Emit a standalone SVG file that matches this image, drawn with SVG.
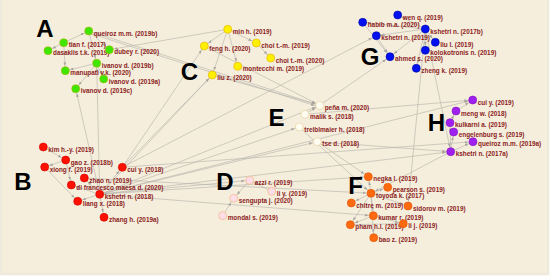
<svg xmlns="http://www.w3.org/2000/svg" width="550" height="276" viewBox="0 0 550 276">
<defs>
<style>
.lb{font-family:"Liberation Sans",Arial,sans-serif;font-weight:bold;font-size:6.4px;fill:#8c1c1c}
.big{font-family:"Liberation Sans",Arial,sans-serif;font-weight:bold;font-size:24px;fill:#000;text-anchor:middle}
.e line{stroke:#b8b5ad;stroke-width:0.65;fill:none;marker-end:url(#arr)}
circle{stroke-width:0.6}
.gr{fill:#3ee600;stroke:#a8b400}
.ye{fill:#fff000;stroke:#e0b000}
.bl{fill:#0010f0;stroke:#0008a0}
.pu{fill:#a020f0;stroke:#8010c0}
.rd{fill:#ff1000;stroke:#d00000}
.or{fill:#ff6a10;stroke:#e05000}
.pk{fill:#fcdde8;stroke:#f0b070}
.wh{fill:#fffdf2;stroke:#e6c890}
</style>
<marker id="arr" markerUnits="userSpaceOnUse" markerWidth="4" markerHeight="4" viewBox="0 -2 4 4" refX="8.4" refY="0" orient="auto">
<path d="M0,-1.4 L3.5,0 L0,1.4z" fill="#a8a59e"/>
</marker>
</defs>
<rect x="0" y="0" width="550" height="276" fill="#faf7f0"/>
<rect x="1" y="-1" width="547" height="275" fill="#f5eedc" stroke="#e2ddd0" stroke-width="0.8"/>

<g id="connectors" class="e">
<line x1="63.7" y1="42.7" x2="88.7" y2="31"/>
<line x1="63.7" y1="42.7" x2="48" y2="50.7"/>
<line x1="88.7" y1="31" x2="109.3" y2="49.7"/>
<line x1="63.7" y1="42.7" x2="65.3" y2="70.7"/>
<line x1="96.7" y1="63.3" x2="65.3" y2="70.7"/>
<line x1="88.7" y1="31" x2="96.7" y2="63.3"/>
<line x1="96.7" y1="63.3" x2="103.7" y2="79"/>
<line x1="96.7" y1="63.3" x2="75.7" y2="88.7"/>
<line x1="99.7" y1="194.3" x2="75.7" y2="88.7"/>
<line x1="99.7" y1="194.3" x2="96.7" y2="63.3"/>
<line x1="88.7" y1="31" x2="319.7" y2="105.3"/>
<line x1="89.5" y1="33.2" x2="319.2" y2="107"/>
<line x1="227.7" y1="29.3" x2="109.3" y2="49.7"/>
<line x1="227.7" y1="29.3" x2="204.3" y2="46"/>
<line x1="227.7" y1="29.3" x2="212.3" y2="75"/>
<line x1="227.7" y1="29.3" x2="237.7" y2="66.3"/>
<line x1="227.7" y1="29.3" x2="256.3" y2="43"/>
<line x1="256.3" y1="43" x2="270.7" y2="58"/>
<line x1="122.3" y1="167.3" x2="204.3" y2="46"/>
<line x1="122.3" y1="167.3" x2="212.3" y2="75"/>
<line x1="99.7" y1="194.3" x2="212.3" y2="75"/>
<line x1="204.3" y1="46" x2="319.7" y2="105.3"/>
<line x1="212.3" y1="75" x2="319.7" y2="105.3"/>
<line x1="425.3" y1="29" x2="362.7" y2="22.3"/>
<line x1="425.3" y1="29" x2="376.3" y2="35.7"/>
<line x1="425.3" y1="29" x2="397.7" y2="15"/>
<line x1="425.3" y1="29" x2="435.3" y2="42.3"/>
<line x1="425.3" y1="29" x2="425.3" y2="50.3"/>
<line x1="425.3" y1="29" x2="416.3" y2="68.3"/>
<line x1="425.3" y1="29" x2="390" y2="56.7"/>
<line x1="362.7" y1="22.3" x2="390" y2="56.7"/>
<line x1="376.3" y1="35.7" x2="390" y2="56.7"/>
<line x1="122.3" y1="167.3" x2="376.3" y2="35.7"/>
<line x1="319.7" y1="105.3" x2="390" y2="56.7"/>
<line x1="425.3" y1="29" x2="408" y2="206"/>
<line x1="425.3" y1="29" x2="450.7" y2="151.7"/>
<line x1="450.7" y1="151.7" x2="473" y2="141.7"/>
<line x1="450.7" y1="151.7" x2="453.7" y2="132"/>
<line x1="450.7" y1="151.7" x2="450" y2="122.7"/>
<line x1="450" y1="122.7" x2="456" y2="111"/>
<line x1="456" y1="111" x2="472.7" y2="100"/>
<line x1="305" y1="114.3" x2="472.7" y2="100"/>
<line x1="99.7" y1="194.3" x2="472.7" y2="100"/>
<line x1="99.7" y1="194.3" x2="450.7" y2="151.7"/>
<line x1="122.3" y1="167.3" x2="473" y2="141.7"/>
<line x1="317.3" y1="141.7" x2="450.7" y2="151.7"/>
<line x1="450.7" y1="151.7" x2="371" y2="193.3"/>
<line x1="305" y1="114.3" x2="319.7" y2="105.3"/>
<line x1="99.7" y1="194.3" x2="299.3" y2="127"/>
<line x1="99.7" y1="194.3" x2="317.3" y2="141.7"/>
<line x1="99.7" y1="194.3" x2="319.7" y2="105.3"/>
<line x1="317.3" y1="141.7" x2="368.3" y2="176.7"/>
<line x1="299.3" y1="127" x2="371" y2="193.3"/>
<line x1="43.3" y1="147" x2="65.7" y2="160"/>
<line x1="65.7" y1="160" x2="44.7" y2="167"/>
<line x1="65.7" y1="160" x2="71.3" y2="185"/>
<line x1="44.7" y1="167" x2="77.7" y2="201.3"/>
<line x1="99.7" y1="194.3" x2="71.3" y2="185"/>
<line x1="99.7" y1="194.3" x2="77.7" y2="201.3"/>
<line x1="99.7" y1="194.3" x2="84.3" y2="178"/>
<line x1="99.7" y1="194.3" x2="104" y2="217.3"/>
<line x1="99.7" y1="194.3" x2="122.3" y2="167.3"/>
<line x1="84.3" y1="178" x2="371" y2="193.3"/>
<line x1="99.7" y1="194.3" x2="368.3" y2="176.7"/>
<line x1="99.7" y1="194.3" x2="373.3" y2="215.7"/>
<line x1="99.7" y1="194.3" x2="249.7" y2="180.3"/>
<line x1="271.7" y1="191.3" x2="249.7" y2="180.3"/>
<line x1="249.7" y1="180.3" x2="233.7" y2="198.3"/>
<line x1="222.7" y1="215.7" x2="233.7" y2="198.3"/>
<line x1="371" y1="193.3" x2="368.3" y2="176.7"/>
<line x1="371" y1="193.3" x2="387.7" y2="187.3"/>
<line x1="371" y1="193.3" x2="351.3" y2="203"/>
<line x1="371" y1="193.3" x2="408" y2="206"/>
<line x1="371" y1="193.3" x2="373.3" y2="215.7"/>
<line x1="371" y1="193.3" x2="350.3" y2="224.7"/>
<line x1="371" y1="193.3" x2="373.7" y2="237.7"/>
<line x1="373.3" y1="215.7" x2="403.3" y2="223.7"/>
<line x1="350.3" y1="224.7" x2="403.3" y2="223.7"/>
<line x1="373.3" y1="215.7" x2="350.3" y2="224.7"/>
</g>

<g id="cluster-labels">
<text class="big" x="45" y="36.5">A</text>
<text class="big" x="23" y="189.5">B</text>
<text class="big" x="189.5" y="79.5">C</text>
<text class="big" x="225" y="189.5">D</text>
<text class="big" x="276.5" y="125.5">E</text>
<text class="big" x="355.5" y="193.5">F</text>
<text class="big" x="370" y="65">G</text>
<text class="big" x="436.5" y="130.5">H</text>
</g>

<g id="n-queiroz-2019b"><circle class="gr" cx="88.7" cy="31" r="4"/><text class="lb" x="93.7" y="35.7">queiroz m.m. (2019b)</text></g>
<g id="n-tian-2017"><circle class="gr" cx="63.7" cy="42.7" r="4"/><text class="lb" x="68.7" y="47.4">tian f. (2017)</text></g>
<g id="n-dasaklis-2019"><circle class="gr" cx="48" cy="50.7" r="4"/><text class="lb" x="53" y="55.4">dasaklis t.k. (2019)</text></g>
<g id="n-dubey-2020"><circle class="gr" cx="109.3" cy="49.7" r="4"/><text class="lb" x="114.3" y="54.4">dubey r. (2020)</text></g>
<g id="n-ivanov-2019b"><circle class="gr" cx="96.7" cy="63.3" r="4"/><text class="lb" x="101.7" y="68">ivanov d. (2019b)</text></g>
<g id="n-manupati-2020"><circle class="gr" cx="65.3" cy="70.7" r="4"/><text class="lb" x="70.3" y="75.4">manupati v.k. (2020)</text></g>
<g id="n-ivanov-2019a"><circle class="gr" cx="103.7" cy="79" r="4"/><text class="lb" x="108.7" y="83.7">ivanov d. (2019a)</text></g>
<g id="n-ivanov-2019c"><circle class="gr" cx="75.7" cy="88.7" r="4"/><text class="lb" x="80.7" y="93.4">ivanov d. (2019c)</text></g>

<g id="n-min-2019"><circle class="ye" cx="227.7" cy="29.3" r="4"/><text class="lb" x="232.7" y="34">min h. (2019)</text></g>
<g id="n-feng-2020"><circle class="ye" cx="204.3" cy="46" r="4"/><text class="lb" x="209.3" y="50.7">feng h. (2020)</text></g>
<g id="n-choi-2019"><circle class="ye" cx="256.3" cy="43" r="4"/><text class="lb" x="261.3" y="47.7">choi t.-m. (2019)</text></g>
<g id="n-choi-2020"><circle class="ye" cx="270.7" cy="58" r="4"/><text class="lb" x="275.7" y="62.7">choi t.-m. (2020)</text></g>
<g id="n-montecchi-2019"><circle class="ye" cx="237.7" cy="66.3" r="4"/><text class="lb" x="242.7" y="71">montecchi m. (2019)</text></g>
<g id="n-liu-z-2020"><circle class="ye" cx="212.3" cy="75" r="4"/><text class="lb" x="217.3" y="79.7">liu z. (2020)</text></g>

<g id="n-wen-2019"><circle class="bl" cx="397.7" cy="15" r="4"/><text class="lb" x="402.7" y="19.7">wen q. (2019)</text></g>
<g id="n-habib-2020"><circle class="bl" cx="362.7" cy="22.3" r="4"/><text class="lb" x="367.7" y="27">habib m.a. (2020)</text></g>
<g id="n-kshetri-2017b"><circle class="bl" cx="425.3" cy="29" r="4"/><text class="lb" x="430.3" y="33.7">kshetri n. (2017b)</text></g>
<g id="n-kshetri-2019"><circle class="bl" cx="376.3" cy="35.7" r="4"/><text class="lb" x="381.3" y="40.4">kshetri n. (2019)</text></g>
<g id="n-liu-l-2019"><circle class="bl" cx="435.3" cy="42.3" r="4"/><text class="lb" x="440.3" y="47">liu l. (2019)</text></g>
<g id="n-kolokotronis-2019"><circle class="bl" cx="425.3" cy="50.3" r="4"/><text class="lb" x="430.3" y="55">kolokotronis n. (2019)</text></g>
<g id="n-ahmed-2020"><circle class="bl" cx="390" cy="56.7" r="4"/><text class="lb" x="395" y="61.4">ahmed s. (2020)</text></g>
<g id="n-zheng-2019"><circle class="bl" cx="416.3" cy="68.3" r="4"/><text class="lb" x="421.3" y="73">zheng k. (2019)</text></g>

<g id="n-pena-2020"><circle class="wh" cx="319.7" cy="105.3" r="4"/><text class="lb" x="324.7" y="110">peña m. (2020)</text></g>
<g id="n-malik-2018"><circle class="wh" cx="305" cy="114.3" r="4"/><text class="lb" x="310" y="119">malik s. (2018)</text></g>
<g id="n-treiblmaier-2018"><circle class="wh" cx="299.3" cy="127" r="4"/><text class="lb" x="304.3" y="131.7">treiblmaier h. (2018)</text></g>
<g id="n-tse-2018"><circle class="wh" cx="317.3" cy="141.7" r="4"/><text class="lb" x="322.3" y="146.4">tse d. (2018)</text></g>

<g id="n-cui-y-2019"><circle class="pu" cx="472.7" cy="100" r="4"/><text class="lb" x="477.7" y="104.7">cui y. (2019)</text></g>
<g id="n-meng-2018"><circle class="pu" cx="456" cy="111" r="4"/><text class="lb" x="461" y="115.7">meng w. (2018)</text></g>
<g id="n-kulkarni-2019"><circle class="pu" cx="450" cy="122.7" r="4"/><text class="lb" x="455" y="127.4">kulkarni a. (2019)</text></g>
<g id="n-engelenburg-2019"><circle class="pu" cx="453.7" cy="132" r="4"/><text class="lb" x="458.7" y="136.7">engelenburg s. (2019)</text></g>
<g id="n-queiroz-2019a"><circle class="pu" cx="473" cy="141.7" r="4"/><text class="lb" x="478" y="146.4">queiroz m.m. (2019a)</text></g>
<g id="n-kshetri-2017a"><circle class="pu" cx="450.7" cy="151.7" r="4"/><text class="lb" x="455.7" y="156.4">kshetri n. (2017a)</text></g>

<g id="n-kim-2019"><circle class="rd" cx="43.3" cy="147" r="4"/><text class="lb" x="48.3" y="151.7">kim h.-y. (2019)</text></g>
<g id="n-gao-2018b"><circle class="rd" cx="65.7" cy="160" r="4"/><text class="lb" x="70.7" y="164.7">gao z. (2018b)</text></g>
<g id="n-xiong-2019"><circle class="rd" cx="44.7" cy="167" r="4"/><text class="lb" x="49.7" y="171.7">xiong f. (2019)</text></g>
<g id="n-cui-y-2018"><circle class="rd" cx="122.3" cy="167.3" r="4"/><text class="lb" x="127.3" y="172">cui y. (2018)</text></g>
<g id="n-zhao-2019"><circle class="rd" cx="84.3" cy="178" r="4"/><text class="lb" x="89.3" y="182.7">zhao n. (2019)</text></g>
<g id="n-difrancesco-2020"><circle class="rd" cx="71.3" cy="185" r="4"/><text class="lb" x="76.3" y="189.7">di francesco maesa d. (2020)</text></g>
<g id="n-kshetri-2018"><circle class="rd" cx="99.7" cy="194.3" r="4"/><text class="lb" x="104.7" y="199">kshetri n. (2018)</text></g>
<g id="n-liang-2018"><circle class="rd" cx="77.7" cy="201.3" r="4"/><text class="lb" x="82.7" y="206">liang x. (2018)</text></g>
<g id="n-zhang-2019a"><circle class="rd" cx="104" cy="217.3" r="4"/><text class="lb" x="109" y="222">zhang h. (2019a)</text></g>

<g id="n-azzi-2019"><circle class="pk" cx="249.7" cy="180.3" r="4"/><text class="lb" x="254.7" y="185">azzi r. (2019)</text></g>
<g id="n-li-y-2019"><circle class="pk" cx="271.7" cy="191.3" r="4"/><text class="lb" x="276.7" y="196">li y. (2019)</text></g>
<g id="n-sengupta-2020"><circle class="pk" cx="233.7" cy="198.3" r="4"/><text class="lb" x="238.7" y="203">sengupta j. (2020)</text></g>
<g id="n-mondal-2019"><circle class="pk" cx="222.7" cy="215.7" r="4"/><text class="lb" x="227.7" y="220.4">mondal s. (2019)</text></g>

<g id="n-negka-2019"><circle class="or" cx="368.3" cy="176.7" r="4"/><text class="lb" x="373.3" y="181.4">negka l. (2019)</text></g>
<g id="n-pearson-2019"><circle class="or" cx="387.7" cy="187.3" r="4"/><text class="lb" x="392.7" y="192">pearson s. (2019)</text></g>
<g id="n-toyoda-2017"><circle class="or" cx="371" cy="193.3" r="4"/><text class="lb" x="376" y="198">toyoda k. (2017)</text></g>
<g id="n-chitre-2019"><circle class="or" cx="351.3" cy="203" r="4"/><text class="lb" x="356.3" y="207.7">chitre m. (2019)</text></g>
<g id="n-sidorov-2019"><circle class="or" cx="408" cy="206" r="4"/><text class="lb" x="413" y="210.7">sidorov m. (2019)</text></g>
<g id="n-kumar-2019"><circle class="or" cx="373.3" cy="215.7" r="4"/><text class="lb" x="378.3" y="220.4">kumar r. (2019)</text></g>
<g id="n-pham-2019"><circle class="or" cx="350.3" cy="224.7" r="4"/><text class="lb" x="355.3" y="229.4">pham h.l. (2019)</text></g>
<g id="n-li-j-2019"><circle class="or" cx="403.3" cy="223.7" r="4"/><text class="lb" x="408.3" y="228.4">li j. (2019)</text></g>
<g id="n-bao-2019"><circle class="or" cx="373.7" cy="237.7" r="4"/><text class="lb" x="378.7" y="242.4">bao z. (2019)</text></g>
</svg>
